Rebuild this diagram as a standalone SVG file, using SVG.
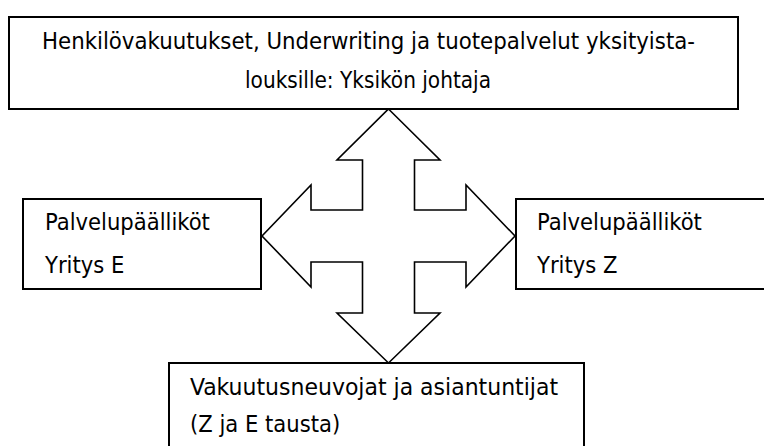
<svg xmlns="http://www.w3.org/2000/svg" width="764" height="446" viewBox="0 0 764 446">
<style>
.box{fill:#fff;stroke:#000;stroke-width:2}
.arrow{fill:#fff;stroke:#000;stroke-width:1.6;stroke-linejoin:miter}
.t{font-family:"DejaVu Sans Condensed","DejaVu Sans","Liberation Sans",sans-serif;font-stretch:condensed;font-size:23.5px;fill:#000}
</style>
<rect width="764" height="446" fill="#fff"/>
<g id="connectors">
<polygon class="arrow" points="388.5,109 440,160 414.5,160 414.5,210 466,210 466,185 515,236 466,287 466,262 414.5,262 414.5,313 440,313 388.5,363 337,313 362.5,313 362.5,262 311,262 311,287 262,236 311,185 311,210 362.5,210 362.5,160 337,160"/>
</g>
<g id="node-top">
<rect class="box" x="9" y="17" width="729" height="92"/>
<text class="t" x="42" y="49" textLength="653" lengthAdjust="spacingAndGlyphs">Henkilövakuutukset, Underwriting ja tuotepalvelut yksityista-</text>
<text class="t" x="368" y="88" text-anchor="middle" textLength="246" lengthAdjust="spacingAndGlyphs">louksille: Yksikön johtaja</text>
</g>
<g id="node-left">
<rect class="box" x="23" y="199" width="238" height="90"/>
<text class="t" x="45" y="230">Palvelupäälliköt</text>
<text class="t" x="45" y="273">Yritys E</text>
</g>
<g id="node-right">
<rect class="box" x="516" y="199" width="250" height="90"/>
<text class="t" x="537" y="230">Palvelupäälliköt</text>
<text class="t" x="537" y="273">Yritys Z</text>
</g>
<g id="node-bottom">
<rect class="box" x="169" y="363" width="415" height="90"/>
<text class="t" x="190" y="395" textLength="368" lengthAdjust="spacingAndGlyphs">Vakuutusneuvojat ja asiantuntijat</text>
<text class="t" x="190" y="432">(Z ja E tausta)</text>
</g>
</svg>
